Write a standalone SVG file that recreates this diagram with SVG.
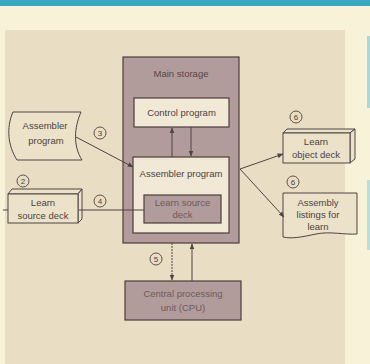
<svg xmlns="http://www.w3.org/2000/svg" width="370" height="364" viewBox="0 0 370 364">
<defs>
<style>
.t{font-family:"Liberation Sans",Arial,sans-serif;font-size:9.5px;fill:#4a4242;text-anchor:middle}
.tm{font-family:"Liberation Sans",Arial,sans-serif;font-size:9.5px;fill:#6e5a5a;text-anchor:middle}
.n{font-family:"Liberation Sans",Arial,sans-serif;font-size:8px;fill:#4a4242;text-anchor:middle}
.ln{stroke:#4e4444;stroke-width:1;fill:none}
.box{stroke:#4e3c3c;stroke-width:1.2}
.mauve{fill:#b29b9b}
.cream{fill:#f1e9d5}
.sh{fill:#ece2c9;stroke:#4e4444;stroke-width:1}
.c{fill:none;stroke:#4e4444;stroke-width:0.9}
</style>
<marker id="ah" viewBox="0 0 10 10" refX="9" refY="5" markerWidth="6" markerHeight="6" orient="auto-start-reverse">
<path d="M0,1 L10,5 L0,9 z" fill="#4e4444"/>
</marker>
</defs>
<rect x="0" y="0" width="370" height="364" fill="#f8f2d8"/>
<rect x="0" y="0" width="370" height="6" fill="#3aa9c0"/>
<rect x="5" y="30" width="340" height="334" fill="#e9ddc3"/>
<rect x="367" y="36" width="3" height="72" fill="#a9d8dc"/>
<rect x="367" y="180" width="3" height="70" fill="#b8dedf"/>

<g id="main-storage">
<rect class="box mauve" x="123" y="57" width="116" height="186"/>
<text class="tm" x="181" y="77" fill="#4e3c3c" style="fill:#5a4646">Main storage</text>
</g>
<g id="control-program">
<rect class="box cream" x="134" y="98" width="95" height="29"/>
<text class="t" x="181.5" y="116" font-size="10">Control program</text>
</g>
<g id="assembler-program-box">
<rect class="box cream" x="133" y="157" width="96" height="76"/>
<text class="t" x="181" y="177" font-size="10">Assembler program</text>
</g>
<g id="learn-source-deck-mem">
<rect class="box mauve" x="144" y="195" width="77" height="28"/>
<text class="tm" x="182.5" y="206">Learn source</text>
<text class="tm" x="182.5" y="218">deck</text>
</g>
<g id="cpu">
<rect class="box mauve" x="125" y="281" width="116" height="39"/>
<text class="tm" x="183" y="297" font-size="10">Central processing</text>
<text class="tm" x="183" y="311" font-size="10">unit (CPU)</text>
</g>
<g id="assembler-program-input">
<path class="sh" d="M13,112 L81,112 C74,128 73,146 82,160 L17,160 C8,146 6,128 13,112 Z"/>
<text class="t" x="45" y="129">Assembler</text>
<text class="t" x="46" y="144">program</text>
</g>
<g id="learn-source-deck-card">
<path class="sh" d="M8,194 L12,189 L82,189 L78,194 Z" fill="#8a7a70"/>
<path class="sh" d="M78,194 L82,189 L82,219 L78,223 Z"/>
<rect class="sh" x="8" y="194" width="70" height="29"/>
<text class="t" x="43" y="206">Learn</text>
<text class="t" x="43" y="219">source deck</text>
</g>
<g id="learn-object-deck">
<path class="sh" d="M283,133 L287,129 L355,129 L350,133 Z"/>
<path class="sh" d="M350,133 L355,129 L355,159 L350,163 Z"/>
<rect class="sh" x="283" y="133" width="67" height="30"/>
<text class="t" x="316" y="145">Learn</text>
<text class="t" x="316" y="158">object deck</text>
</g>
<g id="assembly-listings">
<path class="sh" d="M283,193 H357 V234 C345,235 330,231 316,234 C302,237 292,239 283,237 Z"/>
<text class="t" x="318" y="206">Assembly</text>
<text class="t" x="318" y="218">listings for</text>
<text class="t" x="318" y="230">learn</text>
</g>

<g id="connectors">
<line class="ln" x1="76" y1="137" x2="133" y2="167" marker-end="url(#ah)"/>
<line class="ln" x1="79" y1="210" x2="144" y2="210"/>
<line class="ln" x1="3" y1="210" x2="8" y2="210"/>
<line class="ln" x1="172" y1="157" x2="172" y2="128" marker-end="url(#ah)"/>
<line class="ln" x1="191" y1="127" x2="191" y2="156" marker-end="url(#ah)"/>
<line class="ln" x1="172" y1="243" x2="172" y2="280" stroke-dasharray="2,1" marker-end="url(#ah)"/>
<line class="ln" x1="192" y1="281" x2="192" y2="244" marker-end="url(#ah)"/>
<line class="ln" x1="240" y1="169" x2="283" y2="154" marker-end="url(#ah)"/>
<line class="ln" x1="240" y1="169" x2="284" y2="217" marker-end="url(#ah)"/>
</g>

<g id="labels">
<circle class="c" cx="100" cy="133" r="6"/><text class="n" x="100" y="136">3</text>
<circle class="c" cx="23" cy="181" r="6"/><text class="n" x="23" y="184">2</text>
<circle class="c" cx="100" cy="201" r="6"/><text class="n" x="100" y="204">4</text>
<circle class="c" cx="156" cy="259" r="6"/><text class="n" x="156" y="262">5</text>
<circle class="c" cx="296" cy="117" r="6"/><text class="n" x="296" y="120">6</text>
<circle class="c" cx="293" cy="182" r="6"/><text class="n" x="293" y="185">6</text>
</g>
</svg>
